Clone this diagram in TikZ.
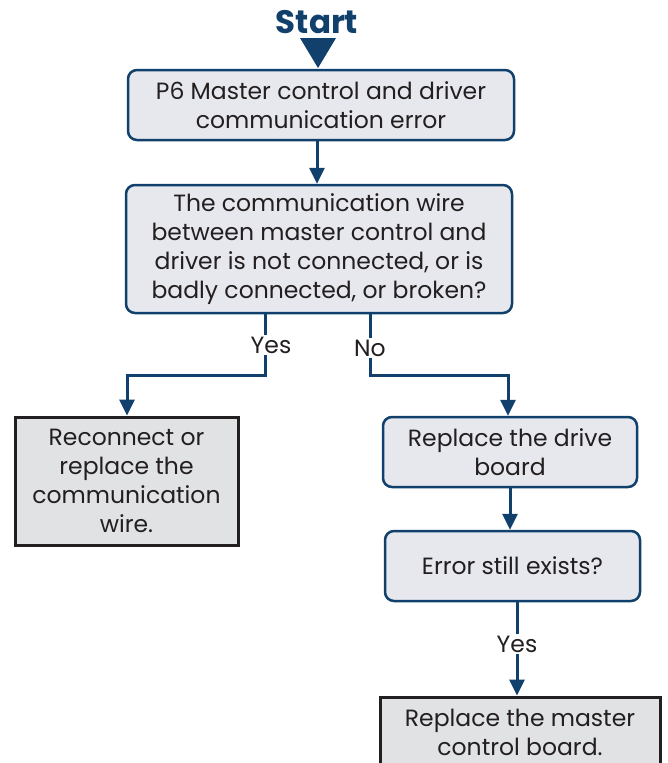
\documentclass[tikz,border=0pt]{standalone}
\usepackage{fontspec}
\setmainfont{Poppins}
\usetikzlibrary{arrows.meta,calc}
\definecolor{fcblue}{RGB}{16,64,107}
\definecolor{fcfill}{RGB}{230,232,238}
\definecolor{fcgray}{RGB}{225,226,228}
\definecolor{fctext}{RGB}{35,31,32}
\tikzset{
  decbox/.style={draw=fcblue, line width=2.5pt, fill=fcfill, rounded corners=9pt, align=center, text=fctext, inner sep=0pt, font=\fontsize{23.5}{29}\selectfont},
  actbox/.style={draw=fctext, line width=3pt, fill=fcgray, align=center, text=fctext, inner sep=0pt, font=\fontsize{23.5}{29}\selectfont},
  arr/.style={draw=fcblue, line width=3pt, -{Triangle[length=16pt,width=15pt]}},
  lbl/.style={fill=white, text=fctext, inner sep=2pt, font=\fontsize{23.5}{27}\selectfont}
}
\begin{document}
\begin{tikzpicture}[x=1pt,y=-1pt]
\useasboundingbox[fill=white] (0,0) rectangle (667,763);
\node[text=fcblue, font=\bfseries\fontsize{32.5}{36}\selectfont] (start) at (317,22) {Start};
\fill[fcblue] (300,38) -- (336,38) -- (318,68) -- cycle;
\node[decbox, minimum width=386pt, minimum height=70pt] (b1) at (321,105) {P6 Master control and driver\\communication error};
\node[decbox, minimum width=386pt, minimum height=128pt] (b2) at (319,249) {The communication wire\\between master control and\\driver is not connected, or is\\badly connected, or broken?};
\node[actbox, minimum width=223pt, minimum height=128pt] (b3) at (126.5,481) {Reconnect or\\replace the\\communication\\wire.};
\node[decbox, minimum width=254pt, minimum height=70pt] (b4) at (510,452) {Replace the drive\\board};
\node[decbox, minimum width=255pt, minimum height=70pt] (b5) at (512.5,566) {Error still exists?};
\node[actbox, minimum width=280pt, minimum height=70pt] (b6) at (520,732) {Replace the master\\control board.};
\coordinate (yes1) at (265,375);
\coordinate (no1) at (370,375);
\draw[arr] (b1.south -| 317,0) -- (b2.north -| 317,0);
\draw[arr] (b2.south -| yes1) -- (yes1) -| (b3.north -| 127,0);
\node[lbl] (ly) at (271,345) {Yes};
\draw[arr] (b2.south -| no1) -- (no1) -| (b4.north -| 508,0);
\node[lbl] (ln) at (370,348) {No};
\draw[arr] (b4.south -| 510,0) -- (b5.north -| 510,0);
\draw[arr] (b5.south -| 517,0) -- (b6.north -| 517,0);
\node[lbl] (ly2) at (517,644) {Yes};
\end{tikzpicture}
\end{document}
